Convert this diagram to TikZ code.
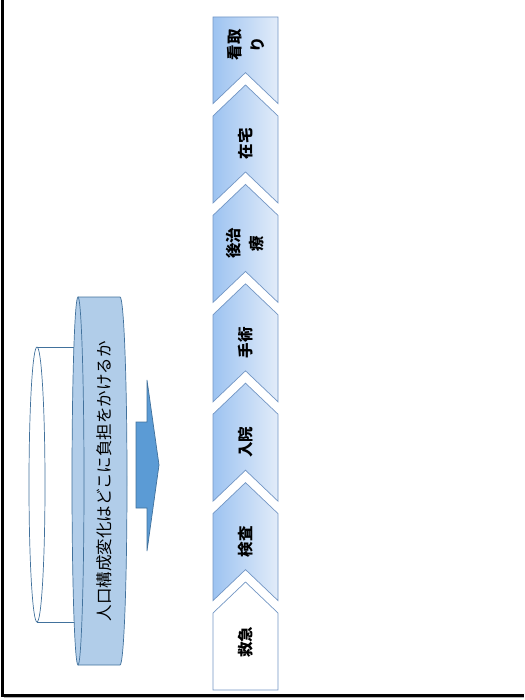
\documentclass[tikz,border=0pt]{standalone}
\usepackage{fontspec}
\newfontfamily\cjk{Noto Sans CJK JP}
\definecolor{chevL}{HTML}{9DC3F1}
\definecolor{chevR}{HTML}{E2ECF9}
\definecolor{chevLine}{HTML}{7396C4}
\definecolor{cylFill}{HTML}{B1CDE9}
\definecolor{cylLine}{HTML}{41719C}
\definecolor{arrFill}{HTML}{5B9BD5}
\tikzset{
  chev/.style={draw=chevLine, line width=0.7pt, left color=chevL, right color=chevR},
  chevwhite/.style={draw=chevLine, line width=0.7pt, fill=white},
  chevlabel/.style={font=\cjk\bfseries\fontsize{15.5}{23}\selectfont, rotate=90, align=center, inner sep=0pt},
  cyl/.style={draw=cylLine, line width=0.7pt, fill=cylFill},
  cylwhite/.style={draw=cylLine, line width=0.7pt, fill=white},
  blockarrow/.style={draw=cylLine, line width=0.7pt, fill=arrFill},
}
\begin{document}
\begin{tikzpicture}[x=1pt,y=-1pt]
\useasboundingbox (0,0) rectangle (524,700);
% frame
\draw[line width=3pt] (2,0) -- (2,695) -- (524,695);
\draw[gray!60, line width=1pt] (3.5,697.5) -- (524,697.5);

% white cylinder (behind)
\path[cylwhite] (37,347) -- (82,347) -- (82,622) -- (37,622) -- cycle;
\draw[cylwhite] (37,484.5) ellipse [x radius=8, y radius=137.5];

% big blue cylinder
\path[fill=cylFill] (78,297) -- (120,297) arc[start angle=-90, end angle=90, x radius=7, y radius=184] -- (78,665) -- cycle;
\draw[cylLine, line width=0.7pt] (78,297) -- (120,297) arc[start angle=-90, end angle=90, x radius=7, y radius=184] -- (78,665);
\draw[cyl] (78,481) ellipse [x radius=6, y radius=184];
\node[font=\cjk\fontsize{16.5}{20}\selectfont, rotate=90, inner sep=0pt] (title) at (104,481) {人口構成変化はどこに負担をかけるか};

% block arrow
\draw[blockarrow] (136,422) -- (147,422) -- (147,380) -- (159,465) -- (147,551) -- (147,508) -- (136,508) -- cycle;
\coordinate (arrowtip) at (159,465);

% chevrons (bottom to top)
\def\xl{213}\def\xr{278}\def\xm{245.5}\def\dep{31}
% 救急 (pentagon)
\draw[chevwhite] (\xm,582) -- (\xr,613) -- (\xr,690) -- (\xl,690) -- (\xl,613) -- cycle;
\node[chevlabel] (c0) at (\xm,642) {救急};
\foreach \k/\lab in {1/検査,2/入院,3/手術,4/{後治\\療},5/在宅}{
  \pgfmathsetmacro\t{582-99.4*\k}
  \pgfmathsetmacro\b{\t+118}
  \draw[chev] (\xm,\t) -- (\xr,\t+\dep) -- (\xr,\b) -- (\xm,\b-\dep) -- (\xl,\b) -- (\xl,\t+\dep) -- cycle;
  \node[chevlabel] (c\k) at (\xm,\t+59) {\lab};
}
% 看取り (top, truncated)
\draw[chev] (\xl,17) -- (\xr,17) -- (\xr,103.6) -- (\xm,72.6) -- (\xl,103.6) -- cycle;
\node[chevlabel] (c6) at (\xm,45) {看取\\り};
\end{tikzpicture}
\end{document}
